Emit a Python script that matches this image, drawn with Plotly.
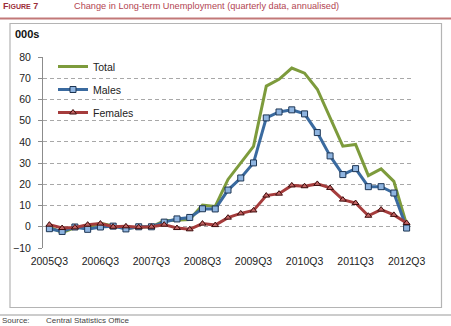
import plotly.graph_objects as go

quarters = ["2005Q3","2005Q4","2006Q1","2006Q2","2006Q3","2006Q4","2007Q1","2007Q2",
            "2007Q3","2007Q4","2008Q1","2008Q2","2008Q3","2008Q4","2009Q1","2009Q2",
            "2009Q3","2009Q4","2010Q1","2010Q2","2010Q3","2010Q4","2011Q1","2011Q2",
            "2011Q3","2011Q4","2012Q1","2012Q2","2012Q3"]
tick_labels = ["2005Q3","2006Q3","2007Q3","2008Q3","2009Q3","2010Q3","2011Q3","2012Q3"]

total = [0.0, -2.8, -0.4, -0.2, 1.6, 0.5, -0.8, -0.1, 0.0, 2.8, 3.2, 3.4, 10.2, 9.6,
         22.3, 30.0, 37.9, 66.3, 69.5, 74.8, 72.4, 64.8, 51.5, 38.0, 38.8, 24.1, 27.3,
         21.4, 1.0]
males = [-0.9, -2.2, -0.1, -1.2, -0.1, 0.3, -1.0, 0.0, 0.0, 2.2, 3.7, 4.4, 8.5, 8.4,
         17.3, 23.0, 30.1, 51.3, 54.1, 55.1, 53.2, 44.4, 33.4, 24.6, 27.4, 18.9, 18.9,
         15.9, -0.6]
females = [1.0, -0.6, -0.3, 1.0, 1.5, 0.0, 0.2, -0.2, 0.0, 1.0, -0.6, -1.2, 1.5, 0.8,
           4.3, 6.3, 7.7, 14.7, 15.6, 19.5, 19.1, 20.2, 18.3, 12.8, 11.2, 5.2, 8.1,
           5.6, 1.8]

W, H = 451, 326
ML, MR, MT, MB = 43, 38, 57, 78
PW, PH = W - ML - MR, H - MT - MB

def px(x):
    return (x - ML) / PW

def py(y):
    return 1 - (y - MT) / PH

FONT = "Liberation Sans"
fig = go.Figure()
fig.add_trace(go.Scatter(x=quarters, y=total, name="Total", mode="lines",
                         line=dict(color="#7d9b3c", width=3), legendgroup="a"))
fig.add_trace(go.Scatter(x=quarters, y=males, name="Males", mode="lines+markers",
                         line=dict(color="#3a6a9f", width=3),
                         marker=dict(symbol="square", size=6, color="#8eb4e0",
                                     line=dict(color="#1d3553", width=1)),
                         legendgroup="b"))
fig.add_trace(go.Scatter(x=quarters, y=females, name="Females", mode="lines+markers",
                         line=dict(color="#a53c3c", width=3),
                         marker=dict(symbol="triangle-up", size=6, color="#c26464",
                                     line=dict(color="#3c0c0c", width=1)),
                         legendgroup="c"))

fig.update_layout(
    width=W, height=H,
    margin=dict(l=ML, r=MR, t=MT, b=MB),
    paper_bgcolor="white", plot_bgcolor="white",
    font=dict(family=FONT, size=10.5, color="#222"),
    showlegend=True,
    legend=dict(x=px(53), y=py(52), xanchor="left", yanchor="top",
                bgcolor="rgba(0,0,0,0)", font=dict(size=10.5, color="#222"),
                tracegroupgap=4, traceorder="grouped", itemwidth=30),
    xaxis=dict(type="category", categoryorder="array", categoryarray=quarters,
               range=[-0.5, len(quarters) - 0.5],
               tickmode="array", tickvals=tick_labels, ticktext=tick_labels,
               showgrid=False, showline=False, ticks="", zeroline=False,
               tickfont=dict(size=10.5, color="#222"), ticklabelstandoff=5),
    xaxis2=dict(overlaying="x", anchor="free", position=10 / 90,
                range=[-0.5, len(quarters) - 0.5], tickmode="linear", tick0=-0.5, dtick=1,
                ticks="outside", ticklen=4, tickcolor="#8c8c8c", showticklabels=False,
                showline=True, linecolor="#8c8c8c", linewidth=1, showgrid=False,
                zeroline=False),
    yaxis=dict(range=[-10, 80], tickmode="linear", tick0=-10, dtick=10,
               showgrid=True, gridcolor="#a8a8a8", griddash="4px,3px", gridwidth=1,
               showline=True, linecolor="#8c8c8c", linewidth=1,
               ticks="outside", ticklen=4, tickcolor="#8c8c8c",
               zeroline=False, tickfont=dict(size=10.5, color="#222"),
               ticklabelstandoff=5),
)

# frame and page decorations
fig.add_shape(type="rect", xref="paper", yref="paper",
              x0=px(10), x1=px(441.5), y0=py(23.5), y1=py(307.5),
              line=dict(color="#b4b4b4", width=1.2), fillcolor="rgba(0,0,0,0)", layer="below")
fig.add_shape(type="line", xref="paper", yref="paper",
              x0=px(0), x1=px(451), y0=py(18.5), y1=py(18.5),
              line=dict(color="#c27878", width=2))
fig.add_shape(type="line", xref="paper", yref="paper",
              x0=px(0), x1=px(451), y0=py(315), y1=py(315),
              line=dict(color="#9a9a9a", width=1.2))

fig.add_annotation(xref="paper", yref="paper", x=px(1), y=py(5.5), xanchor="left",
                   yanchor="middle", showarrow=False,
                   text="<b>F<span style='font-size:7px'>IGURE</span> 7</b>",
                   font=dict(family=FONT, size=9, color="#9b2d3a"))
fig.add_annotation(xref="paper", yref="paper", x=px(72), y=py(5.5), xanchor="left",
                   yanchor="middle", showarrow=False,
                   text="Change in Long-term Unemployment (quarterly data, annualised)",
                   font=dict(family=FONT, size=9.2, color="#b24452"))
fig.add_annotation(xref="paper", yref="paper", x=px(13), y=py(34.5), xanchor="left",
                   yanchor="middle", showarrow=False, text="<b>000s</b>",
                   font=dict(family=FONT, size=11, color="#111"))
fig.add_annotation(xref="paper", yref="paper", x=px(0), y=py(320.5), xanchor="left",
                   yanchor="middle", showarrow=False, text="Source:",
                   font=dict(family=FONT, size=8, color="#444"))
fig.add_annotation(xref="paper", yref="paper", x=px(44), y=py(320.5), xanchor="left",
                   yanchor="middle", showarrow=False, text="Central Statistics Office",
                   font=dict(family=FONT, size=8, color="#444"))

fig.write_html("out.html")
